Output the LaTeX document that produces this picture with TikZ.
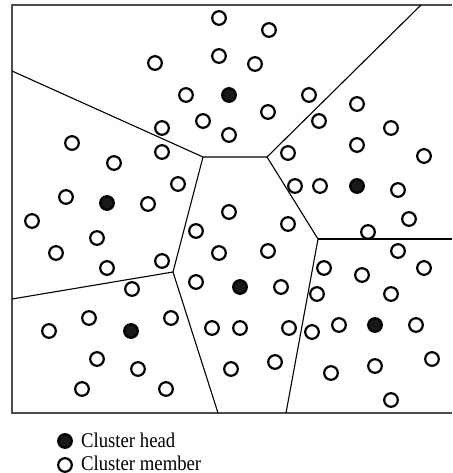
\documentclass[tikz,border=0pt]{standalone}
\usepackage{fontspec}
\usepackage{graphicx}
\setmainfont{Liberation Serif}
\begin{document}
\begin{tikzpicture}[x=1pt,y=-1pt,
  member/.style={circle,draw=black,line width=2.2pt,minimum size=13.6pt,inner sep=0pt,fill=white},
  head/.style={member,fill=black!90},
  edge/.style={line width=1.1pt,black},
  frame/.style={line width=2pt,black!70},
  legend/.style={anchor=base west,inner sep=0pt,font=\fontsize{18.7}{22}\selectfont}]
\useasboundingbox (0,0) rectangle (452,473);
% frame
\draw[frame] (452,5) -- (12,5) -- (12,413) -- (452,413);
% Voronoi vertices
\coordinate (A) at (12,71);
\coordinate (B) at (203,157);
\coordinate (C) at (267,157);
\coordinate (D) at (421,5);
\coordinate (E) at (173,272);
\coordinate (F) at (318,239);
\coordinate (G) at (452,239);
\coordinate (H) at (12,299);
\coordinate (I) at (218,413);
\coordinate (J) at (286,413);
\draw[edge] (A) -- (B) -- (C) -- (D);
\draw[edge] (B) -- (E) -- (I);
\draw[edge] (H) -- (E);
\draw[edge] (C) -- (F) -- (J);
\draw[edge] (F) -- (G);
% cluster members
\foreach \x/\y [count=\i] in {
  219/18, 269/30, 219/56, 155/63, 255/64, 186/95, 309/95, 268/112, 203/121, 162/128, 229/135,
  72/143, 162/152, 114/163, 178/184, 66/197, 148/204, 32/221, 97/238, 56/253, 107/268, 162/261,
  357/104, 319/121, 391/128, 357/145, 424/156, 288/153, 295/186, 320/186, 398/190, 409/219, 368/232,
  229/212, 196/231, 288/224, 219/253, 268/251, 196/282, 281/287, 212/328, 240/328, 289/328, 231/369, 275/362,
  132/289, 89/318, 171/318, 49/331, 97/359, 138/369, 82/389, 166/389,
  398/251, 324/268, 362/275, 424/268, 317/294, 391/294, 312/332, 339/325, 416/325, 432/359, 375/366, 331/373, 391/400}
  \node[member] (m\i) at (\x,\y) {};
% cluster heads
\foreach \x/\y [count=\i] in {229/95, 107/203, 357/186, 240/287, 131/331, 375/325}
  \node[head] (h\i) at (\x,\y) {};
% legend
\node[head] (lh) at (65,441) {};
\node[member] (lm) at (65,465) {};
\node[legend] (th) at (81,447.5) {\scalebox{1}[1.12]{Cluster head}};
\node[legend] (tm) at (81,470.3) {\scalebox{1}[1.12]{Cluster member}};
\end{tikzpicture}
\end{document}
